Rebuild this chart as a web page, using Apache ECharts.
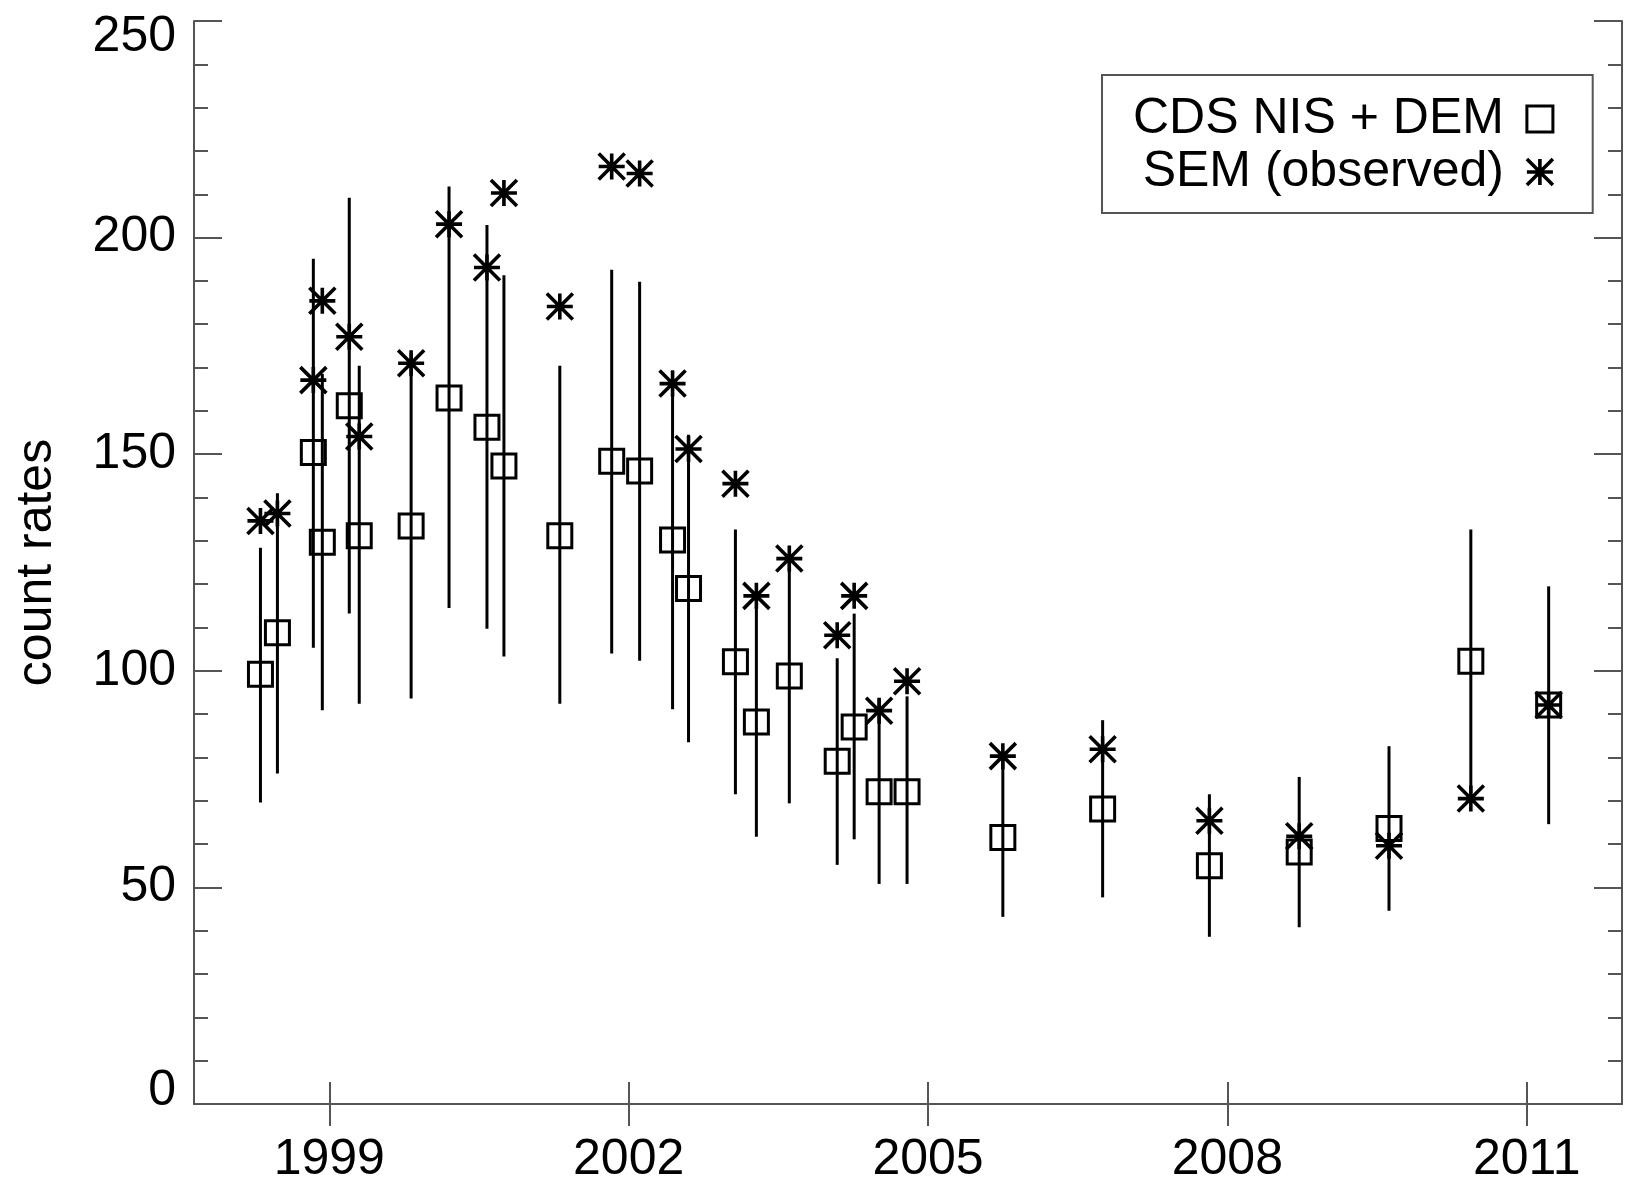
<!DOCTYPE html>
<html>
<head>
<meta charset="utf-8">
<script src="https://cdn.jsdelivr.net/npm/echarts@6/dist/echarts.min.js"></script>
<style>
  html, body { margin: 0; padding: 0; background: #fff; }
  #chart { width: 1630px; height: 1191px; }
</style>
</head>
<body>
<div id="chart"></div>
<script>
// observation times (decimal years)
var years = [1998.31, 1998.48, 1998.84, 1998.93, 1999.20, 1999.30, 1999.82, 2000.20, 2000.58, 2000.75,
  2001.31, 2001.83, 2002.11, 2002.44, 2002.60, 2003.07, 2003.28, 2003.61, 2004.09, 2004.26,
  2004.51, 2004.79, 2005.75, 2006.75, 2007.82, 2008.72, 2009.62, 2010.44, 2011.22];
// CDS NIS + DEM predicted count rates (squares)
var demRates = [99.2, 108.8, 150.4, 129.7, 161.2, 131.2, 133.4, 163.0, 156.2, 147.3,
  131.2, 148.4, 146.1, 130.2, 119.0, 102.1, 88.2, 98.8, 79.1, 87.0,
  72.1, 72.1, 61.5, 68.1, 55.0, 58.2, 63.6, 102.2, 92.1];
// error bar ends on the predicted values
var errLow = [69.6, 76.3, 105.3, 90.9, 113.2, 92.4, 93.6, 114.5, 109.7, 103.3,
  92.4, 104.0, 102.3, 91.1, 83.5, 71.5, 61.7, 69.4, 55.2, 61.1,
  50.8, 50.8, 43.2, 47.7, 38.6, 40.8, 44.6, 71.8, 64.6];
var errHigh = [128.4, 141.0, 195.1, 168.5, 209.2, 170.4, 173.2, 211.8, 202.9, 191.3,
  170.4, 192.6, 189.8, 169.3, 154.5, 132.6, 114.7, 125.9, 102.9, 113.2,
  93.4, 94.1, 79.8, 88.6, 71.5, 75.5, 82.6, 132.6, 119.5];
// SEM observed count rates (asterisks)
var semRates = [134.6, 136.3, 167.1, 185.4, 177.1, 154.1, 171.0, 203.1, 193.1, 210.3,
  184.1, 216.4, 214.8, 166.3, 151.2, 143.2, 117.3, 125.9, 108.2, 117.3,
  90.8, 97.6, 80.3, 81.9, 65.4, 61.8, 59.6, 70.5, 92.1];
var yearTicks = [1999, 2002, 2005, 2008, 2011];
var seriesNames = ['CDS NIS + DEM', 'SEM (observed)'];

var font = '"Liberation Sans", Arial, Helvetica, sans-serif';
var axisColor = '#555';
var asterisk = 'path://M0,10L20,10M10,0L10,20M0,0L20,20M20,0L0,20';

var demData = years.map(function(y, i) { return [y, demRates[i]]; });
var semData = years.map(function(y, i) { return [y, semRates[i]]; });
var errData = years.map(function(y, i) { return [y, errLow[i], errHigh[i]]; });

var chart = echarts.init(document.getElementById('chart'), null, { renderer: 'canvas' });

var xBase = {
  type: 'value',
  min: 1997.644,
  max: 2011.955,
  axisLine: { show: true, lineStyle: { color: axisColor, width: 2 } },
  axisTick: { show: true, inside: true, length: 22, customValues: yearTicks, lineStyle: { color: axisColor, width: 2 } },
  splitLine: { show: false }
};
var yBase = {
  type: 'value',
  min: 0,
  max: 250,
  interval: 50,
  axisLine: { show: true, lineStyle: { color: axisColor, width: 2 } },
  axisTick: { show: true, inside: true, length: 28, lineStyle: { color: axisColor, width: 2 } },
  minorTick: { show: true, splitNumber: 5, length: 14, lineStyle: { color: axisColor, width: 2 } },
  splitLine: { show: false }
};

chart.setOption({
  animation: false,
  backgroundColor: '#fff',
  grid: { left: 194, right: 8, top: 21, bottom: 87 },
  xAxis: [
    Object.assign({}, xBase, {
      position: 'bottom',
      axisLabel: {
        customValues: yearTicks, margin: 31, color: '#000', fontSize: 50, fontFamily: font,
        formatter: function(v) { return String(Math.round(v)); }
      }
    }),
    Object.assign({}, xBase, { position: 'top', axisLabel: { show: false } })
  ],
  yAxis: [
    Object.assign({}, yBase, {
      position: 'left',
      name: 'count rates',
      nameLocation: 'middle',
      nameGap: 132,
      nameTextStyle: { color: '#000', fontSize: 50, fontFamily: font },
      axisLabel: {
        margin: 18, color: '#000', fontSize: 50, fontFamily: font,
        formatter: function(v) {
          if (v === 0) return '{lo|0}';
          if (v === 250) return '{hi|250}';
          return String(v);
        },
        rich: {
          lo: { fontSize: 50, fontFamily: font, color: '#000', padding: [0, 0, 26, 0] },
          hi: { fontSize: 50, fontFamily: font, color: '#000', padding: [32, 0, 0, 0] }
        }
      }
    }),
    Object.assign({}, yBase, { position: 'right', axisLabel: { show: false } })
  ],
  legend: {
    data: [
      { name: seriesNames[0], itemStyle: { borderWidth: 3 } },
      { name: seriesNames[1], itemStyle: { borderWidth: 3.6 } }
    ],
    orient: 'vertical',
    align: 'right',
    left: 1102,
    top: 75,
    padding: [19, 38, 16, 31],
    itemGap: 3,
    itemWidth: 26,
    itemHeight: 26,
    borderColor: axisColor,
    borderWidth: 2,
    inactiveColor: '#000',
    formatter: function(name) { return '{t|' + name + '}'; },
    textStyle: {
      rich: {
        t: { width: 370, align: 'right', fontSize: 50, lineHeight: 48, fontFamily: font, color: '#000', padding: [0, 18, 0, 0] }
      }
    }
  },
  series: [
    {
      type: 'custom',
      name: 'error',
      xAxisIndex: 0,
      yAxisIndex: 0,
      data: errData,
      encode: { x: 0, y: [1, 2] },
      silent: true,
      z: 1,
      renderItem: function(params, api) {
        var lo = api.coord([api.value(0), api.value(1)]);
        var hi = api.coord([api.value(0), api.value(2)]);
        return {
          type: 'line',
          shape: { x1: lo[0], y1: lo[1], x2: hi[0], y2: hi[1] },
          style: { stroke: '#000', lineWidth: 3 }
        };
      }
    },
    {
      type: 'scatter',
      name: seriesNames[0],
      data: demData,
      symbol: 'rect',
      symbolSize: 24,
      z: 3,
      itemStyle: { color: 'rgba(0,0,0,0)', borderColor: '#000', borderWidth: 3, opacity: 1 }
    },
    {
      type: 'scatter',
      name: seriesNames[1],
      data: semData,
      symbol: asterisk,
      symbolSize: 26,
      z: 4,
      itemStyle: { color: 'rgba(0,0,0,0)', borderColor: '#000', borderWidth: 3.6, opacity: 1 }
    }
  ]
});
window.addEventListener('resize', function() { chart.resize(); });
</script>
</body>
</html>
